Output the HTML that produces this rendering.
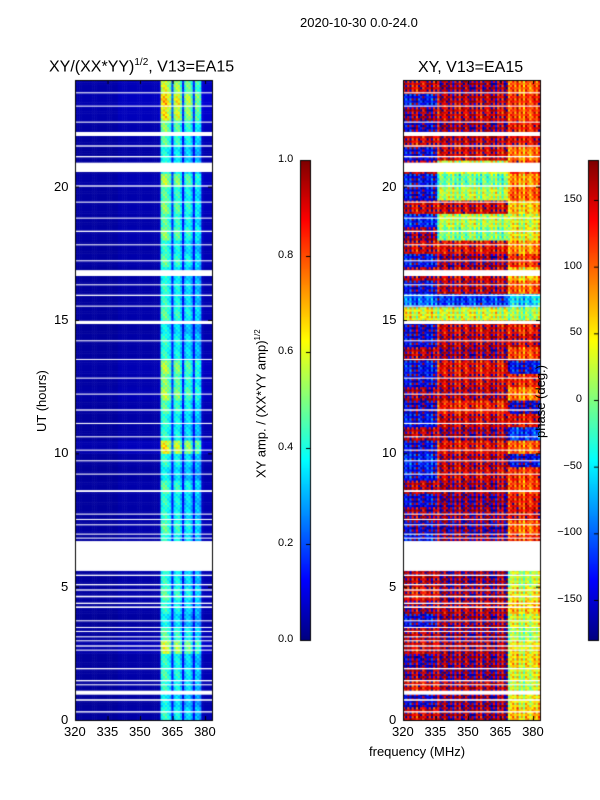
<!DOCTYPE html>
<html><head><meta charset="utf-8"><style>
body{margin:0;background:#fff;width:600px;height:800px;overflow:hidden;font-family:"Liberation Sans",sans-serif}
#wrap{position:relative;width:600px;height:800px}
canvas{position:absolute;left:0;top:0}
.t{position:absolute;font-size:13px;color:#000;white-space:nowrap}
.tk{position:absolute;font-size:13px;color:#000;white-space:nowrap}
.cbt{position:absolute;font-size:11px;color:#000;white-space:nowrap}
</style></head><body>
<div id="wrap">
<canvas id="cv" width="600" height="800"></canvas>
<div class="t" style="left:300px;top:15px">2020-10-30 0.0-24.0</div>
<div class="t" style="left:49px;top:57px;font-size:16px">XY/(XX*YY)<sup style="font-size:10px">1/2</sup>, V13=EA15</div>
<div class="t" style="left:418px;top:59px;font-size:16px">XY, V13=EA15</div>
<div class="t" style="left:34px;top:432px;transform:rotate(-90deg);transform-origin:0 0">UT (hours)</div>
<div class="t" style="left:369px;top:744px">frequency (MHz)</div>
<div class="t" style="left:253px;top:478px;transform:rotate(-90deg);transform-origin:0 0">XY amp. / (XX*YY amp)<sup style="font-size:8px">1/2</sup></div>
<div class="t" style="left:533px;top:438px;transform:rotate(-90deg);transform-origin:0 0">phase (deg.)</div>
<div id="lbl"></div>
</div>
<script>
// ---- data ----
const freqMin=320, freqMax=383.2, nChan=64;
const ampColProfile=[0.03,0.03,0.03,0.03,0.03,0.03,0.03,0.03,0.03,0.03,0.03,0.03,0.03,0.03,0.03,0.03,0.03,0.03,0.03,0.03,
0.04,0.04,0.04,0.04,0.04,0.04,0.04,0.04,0.04,0.04,0.04,0.04,0.04,0.04,0.04,0.04,0.04,0.04,0.04,0.05,
0.4,0.44,0.44,0.4,0.36,0.15,0.36,0.4,0.4,0.32,0.12,0.32,0.36,0.36,0.3,0.12,0.32,0.32,0.28,0.06,0.05,0.05,0.05,0.05];
const ampRowFactor=[1.0,0.9,1.0,1.05,1.0,1.4,1.1,0.9,1.0,1.1,1.0,1.0,1.0,1.0,1.1,1.0,1.0,1.1,0.9,1.0,
1.5,1.0,1.0,1.1,1.3,1.2,1.3,1.0,1.0,0.9,1.1,1.0,1.0,0.95,1.1,1.0,1.2,1.1,1.2,1.1,1.3,1.0,0.95,1.1,1.2,1.5,1.6,1.4];
const ampSubJitter=[0.9,1.1,0.95,1.05,0.85,1.0];
const phaseA=[150,-160,140,170,-170,150,160,-150,170,140,160,160,160,-140,-160,170,-150,160,
-140,-130,-150,160,-140,-160,170,-150,-140,160,-150,-160,40,-100,
-150,160,-140,150,170,-130,150,-150,-140,160,-150,150,-160,170,-140,150];
const phaseB=[170,175,160,180,170,165,175,170,160,170,175,175,175,175,-175,170,180,165,
150,160,140,170,150,130,160,150,140,170,160,150,30,-120,
160,150,170,140,0,20,150,20,-10,30,150,160,170,150,160,170];
const phaseC=[60,40,20,30,50,40,10,30,60,40,20,20,20,120,100,140,130,110,
120,-150,100,-120,140,-160,90,130,-140,110,150,130,10,-60,
100,60,120,80,40,30,60,100,80,120,90,140,130,110,120,100];
const phaseSubJitter=[15,-25,10,-5,30,-15];
const phaseChanJitter=[0,25,-15,35,-30,10,-40,20,5,-25];
const flagged=[[0.28,0.33],[0.72,0.78],[0.95,1.1],[1.3,1.34],[1.45,1.5],[1.9,1.95],[2.6,2.64],[2.75,2.8],[2.95,2.99],[3.1,3.14],[3.3,3.34],[3.45,3.49],[3.7,3.74],[4.2,4.26],[4.35,4.4],[4.6,4.66],[4.85,4.9],[5.05,5.1],[5.4,5.45],
[5.59,6.71],[6.8,6.84],[6.95,6.99],[7.3,7.34],[7.5,7.54],[7.7,7.74],[8.55,8.62],[9.2,9.24],[9.7,9.74],[10.1,10.14],[10.6,10.64],[11.1,11.14],[11.6,11.65],[12.2,12.24],[12.8,12.84],[13.5,13.54],[14.2,14.24],[14.85,14.97],
[15.5,15.54],[15.9,15.95],[16.3,16.34],[16.65,16.87],[17.2,17.24],[17.8,17.84],[18.3,18.35],[18.8,18.84],[19.4,19.44],[20.0,20.05],[20.55,20.9],[21.1,21.15],[21.5,21.55],[21.9,22.05],[22.4,22.44],[23.0,23.04],[23.5,23.54]];
const yTicks=[0,5,10,15,20];
const xTicks=[320,335,350,365,380];
const ampCbTicks=[0.0,0.2,0.4,0.6,0.8,1.0];
const phaseCbTicks=[-150,-100,-50,0,50,100,150];
// ---- layout ----
const P1={x0:75,x1:212},P2={x0:403,x1:540},Y0=720,Y1=80;
const yS=h=>Y0-(h/24)*(Y0-Y1);
const xS=(P,f)=>P.x0+(f-freqMin)/(freqMax-freqMin)*(P.x1-P.x0);
function jet(v){v=Math.max(0,Math.min(1,v));
 const r=Math.max(0,Math.min(1,1.5-Math.abs(4*v-3))),g=Math.max(0,Math.min(1,1.5-Math.abs(4*v-2))),b=Math.max(0,Math.min(1,1.5-Math.abs(4*v-1)));
 return `rgb(${r*255|0},${g*255|0},${b*255|0})`;}
const cv=document.getElementById('cv'),c=cv.getContext('2d');
const nRow=ampRowFactor.length,sub=ampSubJitter.length,cw=(freqMax-freqMin)/nChan;
for(let r=0;r<nRow;r++)for(let s=0;s<sub;s++){
 const h0=(r+s/sub)*24/nRow,h1=(r+(s+1)/sub)*24/nRow;
 const ya=yS(h1),yb=yS(h0);
 for(let ch=0;ch<nChan;ch++){
  const f0=freqMin+ch*cw,f1=f0+cw;
  const a=ampColProfile[ch]*ampRowFactor[r]*(ch>=40&&ch<59?ampSubJitter[(s+ch)%sub]:1);
  c.fillStyle=jet(a);
  c.fillRect(xS(P1,f0),ya,xS(P1,f1)-xS(P1,f0)+0.5,yb-ya+0.5);
  const fm=(f0+f1)/2;
  let p=fm<336?phaseA[r]:fm<368?phaseB[r]:phaseC[r];
  p+=phaseSubJitter[(s+ch)%sub]+phaseChanJitter[ch%phaseChanJitter.length];
  while(p>180)p-=360;while(p<-180)p+=360;
  c.fillStyle=jet((p+180)/360);
  c.fillRect(xS(P2,f0),ya,xS(P2,f1)-xS(P2,f0)+0.5,yb-ya+0.5);
 }}
c.fillStyle='#fff';
flagged.forEach(([a,b])=>{const ya=yS(b),yb=yS(a);c.fillRect(P1.x0,ya,P1.x1-P1.x0,yb-ya);c.fillRect(P2.x0,ya,P2.x1-P2.x0,yb-ya);});
// colorbars
for(let i=0;i<480;i++){const v=1-i/480;c.fillStyle=jet(v);c.fillRect(300,160+i,10,1);c.fillRect(588,160+i,10,1);}
c.strokeStyle='#000';c.lineWidth=1;
[[P1.x0,P1.x1],[P2.x0,P2.x1]].forEach(([a,b])=>c.strokeRect(a+0.5,Y1+0.5,b-a,Y0-Y1));
c.strokeRect(300.5,160.5,10,480);c.strokeRect(588.5,160.5,10,480);
const L=document.getElementById('lbl');
function lab(txt,x,y,name,cls){const d=document.createElement('div');d.className=cls||'tk';d.textContent=txt;d.style.left=x+'px';d.style.top=y+'px';
 
 
 L.appendChild(d);return d;}
[P1,P2].forEach((P,pi)=>{
 yTicks.forEach(t=>{const y=yS(t);c.beginPath();c.moveTo(P.x0,y+0.5);c.lineTo(P.x0+4,y+0.5);c.moveTo(P.x1,y+0.5);c.lineTo(P.x1-4,y+0.5);c.stroke();
  const d=lab(String(t),0,y-8,'y-tick-label');d.style.left=(P.x0-6-(t>=10?15:8))+'px';});
 xTicks.forEach(t=>{const x=xS(P,t);c.beginPath();c.moveTo(x+0.5,Y0);c.lineTo(x+0.5,Y0-4);c.moveTo(x+0.5,Y1);c.lineTo(x+0.5,Y1+4);c.stroke();
  lab(String(t),x-11,724,'x-tick-label');});
});
ampCbTicks.forEach(t=>{const y=640-t*480;c.beginPath();c.moveTo(310,y+0.5);c.lineTo(306,y+0.5);c.stroke();lab(t.toFixed(1),278,y-7,'amp-colorbar-tick','cbt');});
phaseCbTicks.forEach(t=>{const y=640-(t+180)/360*480;c.beginPath();c.moveTo(598,y+0.5);c.lineTo(594,y+0.5);c.stroke();
 const d=lab(t<0?'\u2212'+(-t):String(t),0,y-7,'phase-colorbar-tick','cbt');d.style.right='18px';d.style.left='auto';});
</script>
</body></html>
